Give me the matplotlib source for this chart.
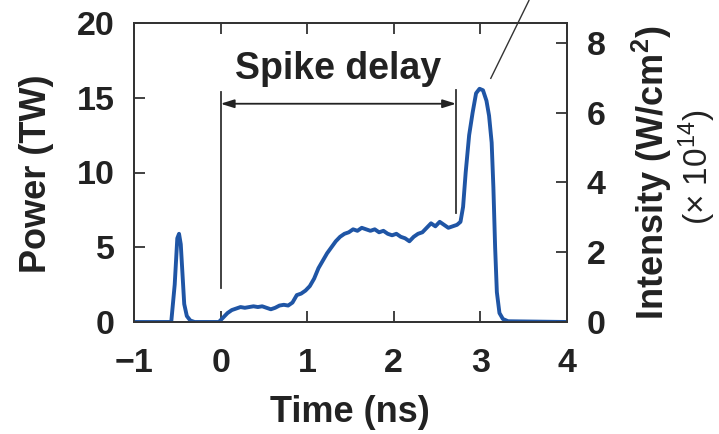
import matplotlib
matplotlib.use("Agg")
import matplotlib.pyplot as plt

time_ns = [-1.0, -0.57, -0.53, -0.50, -0.48, -0.46, -0.44, -0.42, -0.39, -0.35, -0.30, -0.02,
           0.03, 0.08, 0.13, 0.18, 0.23, 0.28, 0.33, 0.38, 0.43, 0.48, 0.53, 0.58, 0.63, 0.68,
           0.73, 0.78, 0.83, 0.88, 0.93, 0.98, 1.03, 1.08, 1.13, 1.18, 1.23, 1.28, 1.33, 1.38,
           1.43, 1.48, 1.53, 1.58, 1.63, 1.68, 1.73, 1.78, 1.83, 1.88, 1.93, 1.98, 2.03, 2.08,
           2.13, 2.18, 2.23, 2.28, 2.33, 2.38, 2.43, 2.48, 2.53, 2.58, 2.63, 2.68, 2.73, 2.77,
           2.80, 2.83, 2.87, 2.91, 2.95, 2.99, 3.03, 3.07, 3.10, 3.13, 3.15, 3.17, 3.19, 3.22,
           3.26, 3.32, 4.0]
power_tw = [0.0, 0.0, 2.5, 5.6, 5.9, 5.2, 3.2, 1.2, 0.4, 0.1, 0.0, 0.0,
            0.3, 0.6, 0.8, 0.9, 1.0, 0.95, 1.0, 1.05, 1.0, 1.05, 0.95, 0.85, 0.95, 1.1,
            1.15, 1.1, 1.3, 1.8, 1.9, 2.1, 2.4, 2.9, 3.6, 4.1, 4.6, 5.0, 5.4, 5.7,
            5.9, 6.0, 6.2, 6.1, 6.3, 6.2, 6.1, 6.2, 6.0, 6.1, 5.9, 5.8, 5.9, 5.7,
            5.6, 5.4, 5.7, 5.9, 6.0, 6.3, 6.6, 6.4, 6.7, 6.5, 6.3, 6.4, 6.5, 6.7,
            7.7, 10.0, 12.5, 14.0, 15.3, 15.6, 15.5, 14.8, 13.8, 12.0, 9.0, 5.0, 2.0, 0.6,
            0.2, 0.05, 0.0]

x_ticks = [-1, 0, 1, 2, 3, 4]
x_tick_labels = ["\u22121", "0", "1", "2", "3", "4"]
left_ticks = [0, 5, 10, 15, 20]
right_ticks = [0, 2, 4, 6, 8]
tw_per_intensity = 2.333
delay_start = 0.0
delay_end = 2.72

FONT = "Liberation Sans"
plt.rcParams["mathtext.fontset"] = "custom"
plt.rcParams["mathtext.rm"] = "Liberation Sans"
plt.rcParams["mathtext.bf"] = "Liberation Sans:bold"
plt.rcParams["mathtext.default"] = "regular"
fs_tick = 24.5
fs_lab = 26
col_axis = "#333333"
col_text = "#222222"
line_color = "#1f55a5"

fig = plt.figure(figsize=(7.19, 4.34), dpi=100)
ax = fig.add_axes([134/719, 1-322/434, (567-134)/719, (322-23)/434])
ax.plot(time_ns, power_tw, color=line_color, lw=2.8, solid_joinstyle="round", zorder=3)
ax.set_xlim(-1, 4)
ax.set_ylim(0, 20)
ax.set_xticks(x_ticks)
ax.set_yticks(left_ticks)
ax.set_xticklabels(x_tick_labels)
for s in ax.spines.values():
    s.set_color(col_axis)
    s.set_linewidth(1.3)
ax.tick_params(direction="in", length=8, width=1.3, color=col_axis, top=True,
               labelsize=fs_tick)
ax.tick_params(axis="x", pad=19)
ax.tick_params(axis="y", pad=14)
for lab in ax.get_xticklabels() + ax.get_yticklabels():
    lab.set_fontfamily(FONT)
    lab.set_fontweight("bold")
    lab.set_color(col_text)

ax2 = ax.twinx()
ax2.set_ylim(0, 20/tw_per_intensity)
ax2.set_yticks(right_ticks)
ax2.tick_params(direction="in", length=8, width=1.3, color=col_axis, labelsize=fs_tick, pad=14)
for lab in ax2.get_yticklabels():
    lab.set_fontfamily(FONT)
    lab.set_fontweight("bold")
    lab.set_color(col_text)
for s in ax2.spines.values():
    s.set_color(col_axis)
    s.set_linewidth(1.3)

fig.text(350/719, 1-412/434, "Time (ns)", ha="center", va="center",
         fontsize=fs_lab, fontfamily=FONT, fontweight="bold", color=col_text)
fig.text(37/719, 1-174/434, "Power (TW)", rotation=90, ha="center", va="center",
         fontsize=fs_lab, fontfamily=FONT, fontweight="bold", color=col_text)
fig.text(652/719, 1-173/434, "Intensity (W/cm$^\\mathbf{2}$)", rotation=90, ha="center", va="center",
         fontsize=fs_lab, fontfamily=FONT, fontweight="bold", color=col_text)
fig.text(697/719, 1-167/434, "(\u00d7 10$^{14}$)", rotation=90, ha="center", va="center",
         fontsize=24, fontfamily=FONT, color=col_text)

# delay markers
ax.plot([delay_start, delay_start], [2.3, 15.4], color=col_axis, lw=1.3, zorder=2)
ax.plot([delay_end, delay_end], [7.3, 15.5], color=col_axis, lw=1.3, zorder=2)
ax.annotate("", xy=(delay_start, 14.6), xytext=(delay_end, 14.6),
            arrowprops=dict(arrowstyle="<|-|>,head_length=0.8,head_width=0.25",
                            color=col_text, lw=1.3, shrinkA=0, shrinkB=0))
ax.text(1.36, 16.9, "Spike delay", ha="center", va="center", fontsize=27,
        fontfamily=FONT, fontweight="bold", color=col_text)
ax.plot([3.12, 3.56], [16.3, 21.5], color=col_axis, lw=1.0, clip_on=False)

fig.savefig("out.png", dpi=100)
